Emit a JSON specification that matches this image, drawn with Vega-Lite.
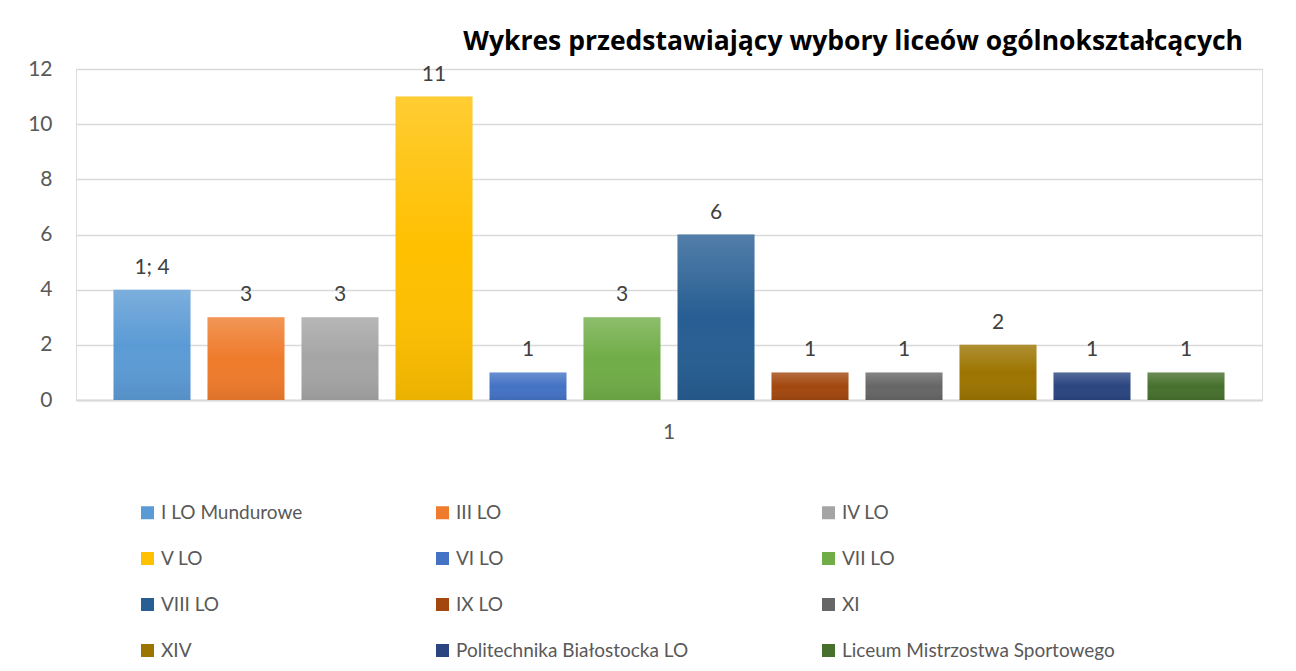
{
  "$schema": "https://vega.github.io/schema/vega-lite/v6.json",
  "width": 1186,
  "height": 331,
  "autosize": {"type": "none"},
  "padding": {"left": 76, "top": 69, "right": 34, "bottom": 271},
  "background": "white",
  "title": {
    "text": "Wykres przedstawiający wybory liceów ogólnokształcących",
    "anchor": "end",
    "dx": -19,
    "offset": 3,
    "font": "Open Sans",
    "fontSize": 26.5,
    "fontWeight": "bold",
    "color": "#000000"
  },
  "data": {
    "values": [
      {"cat": "1", "name": "I LO Mundurowe", "value": 4, "label": "1; 4"},
      {"cat": "1", "name": "III LO", "value": 3, "label": "3"},
      {"cat": "1", "name": "IV LO", "value": 3, "label": "3"},
      {"cat": "1", "name": "V LO", "value": 11, "label": "11"},
      {"cat": "1", "name": "VI LO", "value": 1, "label": "1"},
      {"cat": "1", "name": "VII LO", "value": 3, "label": "3"},
      {"cat": "1", "name": "VIII LO", "value": 6, "label": "6"},
      {"cat": "1", "name": "IX LO", "value": 1, "label": "1"},
      {"cat": "1", "name": "XI", "value": 1, "label": "1"},
      {"cat": "1", "name": "XIV", "value": 2, "label": "2"},
      {"cat": "1", "name": "Politechnika Białostocka LO", "value": 1, "label": "1"},
      {"cat": "1", "name": "Liceum Mistrzostwa Sportowego", "value": 1, "label": "1"}
    ]
  },
  "encoding": {
    "x": {
      "field": "cat",
      "type": "nominal",
      "scale": {"paddingInner": 0, "paddingOuter": 0},
      "axis": {
        "title": null,
        "labelAngle": 0,
        "labelFont": "Lato",
        "labelFontSize": 21,
        "labelColor": "#595959",
        "labelPadding": 21,
        "ticks": false,
        "domain": true,
        "domainColor": "#d9d9d9",
        "domainWidth": 2,
        "grid": false
      }
    },
    "xOffset": {
      "field": "name",
      "type": "nominal",
      "sort": null,
      "scale": {"paddingInner": 0.181, "paddingOuter": 0.399}
    },
    "y": {
      "field": "value",
      "type": "quantitative",
      "scale": {"domain": [0, 12], "nice": false},
      "axis": {
        "title": null,
        "values": [0, 2, 4, 6, 8, 10, 12],
        "labelFont": "Lato",
        "labelFontSize": 21,
        "labelColor": "#595959",
        "labelPadding": 24,
        "ticks": false,
        "domain": false,
        "grid": true,
        "gridColor": "#d9d9d9",
        "gridWidth": 1.5
      }
    }
  },
  "layer": [
    {
      "mark": {"type": "bar"},
      "encoding": {
        "color": {
          "field": "name",
          "type": "nominal",
          "sort": null,
          "scale": {
            "domain": ["I LO Mundurowe", "III LO", "IV LO", "V LO", "VI LO", "VII LO", "VIII LO", "IX LO", "XI", "XIV", "Politechnika Białostocka LO", "Liceum Mistrzostwa Sportowego"],
            "range": ["#5b9bd5", "#ef7b2c", "#a5a5a5", "#ffc000", "#4472c4", "#70ad47", "#275e93", "#a2480f", "#666666", "#9c7400", "#2a4580", "#47702d"]
          },
          "legend": {
            "orient": "none",
            "legendX": 62,
            "legendY": 434,
            "title": null,
            "direction": "horizontal",
            "columns": 3,
            "gridAlign": "each",
            "columnPadding": 130,
            "rowPadding": 26,
            "symbolType": "square",
            "symbolSize": 169,
            "symbolStrokeWidth": 0,
            "symbolOpacity": 1,
            "labelFont": "Lato",
            "labelFontSize": 19,
            "labelColor": "#595959",
            "labelOffset": 4,
            "labelLimit": 400,
            "padding": 0
          }
        }
      }
    },
    {
      "mark": {
        "type": "bar",
        "color": {
          "gradient": "linear",
          "x1": 0, "y1": 0, "x2": 0, "y2": 1,
          "stops": [
            {"offset": 0, "color": "rgba(255,255,255,0.2)"},
            {"offset": 0.5, "color": "rgba(255,255,255,0)"},
            {"offset": 1, "color": "rgba(0,0,0,0.08)"}
          ]
        }
      },
      "encoding": {}
    },
    {
      "mark": {
        "type": "text",
        "baseline": "bottom",
        "dy": -12,
        "font": "Lato",
        "fontSize": 21,
        "color": "#404040"
      },
      "encoding": {
        "text": {"field": "label", "type": "nominal"}
      }
    }
  ]
}
